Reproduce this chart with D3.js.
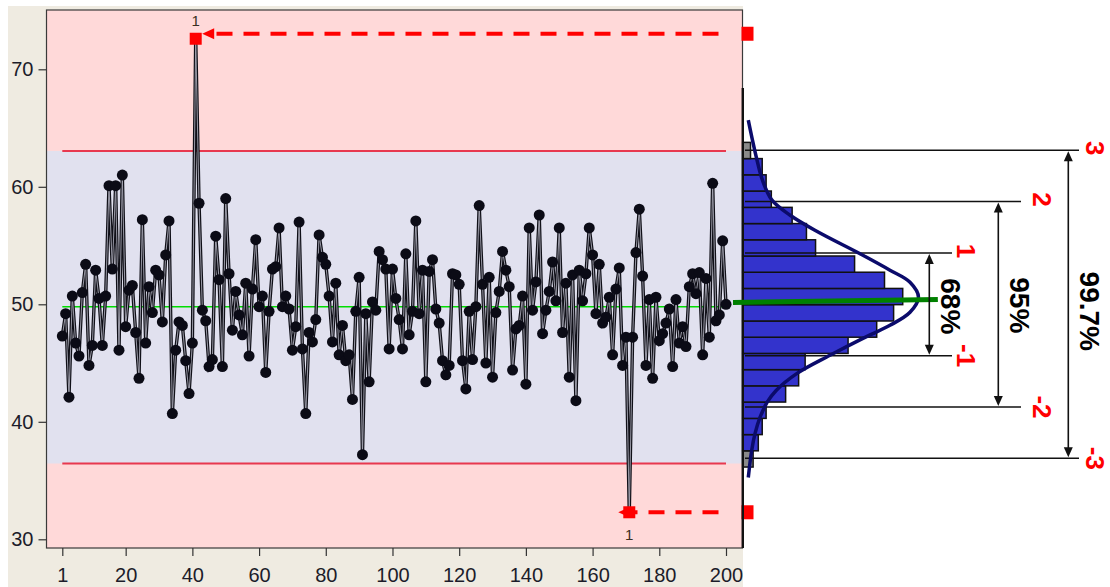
<!DOCTYPE html>
<html>
<head>
<meta charset="utf-8">
<script src="https://cdn.jsdelivr.net/npm/d3@7"></script>
<style>
  html, body { margin: 0; padding: 0; background: #ffffff; }
  svg { display: block; }
</style>
</head>
<body>
<svg id="chart" width="1110" height="587"></svg>
<script>
// ---- Individual measurements (sample number 1..200) ----
const sampleNumbers = d3.range(1, 201);
const measurements = [
  47.3, 49.2, 42.1, 50.7, 46.7, 45.6, 51.0, 53.4, 44.8, 46.5,
  52.9, 50.5, 46.5, 50.7, 60.1, 53.0, 60.1, 46.1, 61.0, 48.1,
  51.2, 51.6, 47.6, 43.7, 57.2, 46.7, 51.5, 49.3, 52.9, 52.5,
  48.5, 54.2, 57.1, 40.7, 46.1, 48.5, 48.2, 45.2, 42.4, 46.7,
  72.6, 58.6, 49.5, 48.6, 44.7, 45.3, 55.8, 52.1, 44.7, 59.0,
  52.6, 47.8, 51.1, 49.1, 47.4, 51.8, 45.6, 51.3, 55.5, 49.8,
  50.7, 44.2, 49.4, 53.0, 53.2, 56.5, 49.8, 50.7, 49.6, 46.1,
  48.1, 57.0, 46.2, 40.7, 47.6, 46.8, 48.7, 55.9, 54.0, 53.4,
  50.7, 46.8, 51.8, 45.7, 48.2, 45.2, 45.7, 41.9, 49.4, 52.3,
  37.2, 49.2, 43.4, 50.2, 49.5, 54.5, 53.8, 53.0, 46.2, 53.0,
  50.5, 48.7, 46.2, 54.3, 47.4, 49.4, 57.1, 49.2, 52.9, 43.4,
  52.8, 53.8, 49.6, 48.4, 45.2, 44.0, 44.8, 52.6, 52.5, 51.7,
  45.2, 42.8, 49.4, 45.3, 49.8, 58.4, 51.7, 45.0, 52.3, 43.8,
  49.3, 51.1, 54.5, 52.9, 51.5, 44.4, 47.9, 48.2, 50.7, 43.2,
  56.5, 49.5, 51.9, 57.6, 47.5, 49.5, 51.1, 53.6, 50.3, 56.5,
  47.6, 51.8, 43.8, 52.5, 41.8, 52.9, 50.3, 52.6, 56.5, 54.2,
  49.2, 53.4, 48.4, 48.9, 50.6, 45.7, 51.3, 53.1, 44.8, 47.2,
  32.3, 47.2, 54.4, 58.1, 52.4, 44.8, 50.4, 43.7, 50.6, 46.9,
  47.5, 48.4, 49.6, 44.7, 50.4, 46.7, 48.1, 46.4, 51.5, 52.6,
  50.9, 52.7, 45.7, 52.2, 47.2, 60.3, 48.6, 49.1, 55.4, 50.0
];
const outOfControl = [41, 171];
const outlierRuleLabel = "1";

// ---- Control limits ----
const centerLine = 49.8;
const upperLimit = 63.05;
const lowerLimit = 36.45;

// ---- Axis ticks ----
const xTickValues = [1, 20, 40, 60, 80, 100, 120, 140, 160, 180, 200];
const yTickValues = [30, 40, 50, 60, 70];

// ---- Side histogram (bins listed from bottom to top) ----
const binEdges = [36.15, 37.53, 38.91, 40.29, 41.68, 43.06, 44.44, 45.82, 47.20, 48.58,
                  49.97, 51.35, 52.73, 54.11, 55.49, 56.87, 58.25, 59.64, 61.02, 62.40, 63.78];
const binPercent = [0.8, 1.2, 1.5, 1.8, 3.3, 4.3, 4.8, 8.1, 10.3, 11.6,
                    12.3, 10.9, 8.6, 5.6, 4.9, 3.8, 2.2, 1.8, 1.5, 0.6];
const tailBins = [0, 19];

// ---- Normal distribution overlay ----
const histMean = 50.0;
const histSigma = 4.37;
const curveValues  = [65.67, 63.97, 62.27, 60.56, 58.86, 57.58, 56.30, 54.17, 52.90, 51.87, 50.60,
                      49.32, 48.21, 47.10, 45.66, 44.12, 42.67, 41.65, 40.37, 39.01, 37.56, 35.26];
const curveDensity = [0.43, 0.75, 1.10, 1.52, 2.25, 3.65, 5.55, 9.24, 11.32, 12.86, 13.51,
                      12.86, 11.32, 9.24, 6.71, 4.18, 2.57, 1.87, 1.33, 0.95, 0.69, 0.43];

// ---- Sigma bands ----
const sigmaLevels = [3, 2, 1, -1, -2, -3];
const sigmaLabels = ["3", "2", "1", "-1", "-2", "-3"];
const coverageSigma = [1, 2, 3];
const coverageLabels = ["68%", "95%", "99.7%"];

// ================= drawing =================
const svg = d3.select("#chart");
const W = 1110, H = 587;
const frame = { left: 46.5, right: 742.5, top: 10, bottom: 548 };

const x = d3.scaleLinear().domain([1, 200]).range([62.3, 726]);
const y = d3.scaleLinear().domain([30, 70]).range([539.3, 69.3]);
const xHist = d3.scaleLinear().domain([0, 10]).range([742.7, 872.8]);

svg.append("rect").attr("width", W).attr("height", H).attr("fill", "#ffffff");
// panel background behind the run chart
svg.append("rect").attr("x", 8).attr("y", 6).attr("width", 735).attr("height", H - 6)
  .attr("fill", "#efebe1");

// zones: out-of-control (pink) and in-control (lavender)
const plotW = frame.right - frame.left;
svg.append("rect").attr("x", frame.left).attr("y", frame.top)
  .attr("width", plotW).attr("height", frame.bottom - frame.top).attr("fill", "#ffd9d9");
svg.append("rect").attr("x", frame.left).attr("y", y(upperLimit))
  .attr("width", plotW).attr("height", y(lowerLimit) - y(upperLimit)).attr("fill", "#e1e1ef");

// limit lines and center line
[upperLimit, lowerLimit].forEach(v => {
  svg.append("line").attr("x1", x(1)).attr("x2", x(200)).attr("y1", y(v)).attr("y2", y(v))
    .attr("stroke", "#e8384f").attr("stroke-width", 2);
});
svg.append("line").attr("x1", x(1)).attr("x2", x(200)).attr("y1", y(centerLine)).attr("y2", y(centerLine))
  .attr("stroke", "#00dd00").attr("stroke-width", 1.5);

// frame
svg.append("rect").attr("x", frame.left).attr("y", frame.top)
  .attr("width", plotW).attr("height", frame.bottom - frame.top)
  .attr("fill", "none").attr("stroke", "#3a3a3a").attr("stroke-width", 1.2);

// axes
const axisFont = "'Liberation Sans', Arial, sans-serif";
const yAxis = svg.append("g").attr("transform", `translate(${frame.left},0)`)
  .call(d3.axisLeft(y).tickValues(yTickValues).tickSize(8).tickPadding(5).tickFormat(d3.format("d")));
const xAxis = svg.append("g").attr("transform", `translate(0,${frame.bottom})`)
  .call(d3.axisBottom(x).tickValues(xTickValues).tickSize(8).tickPadding(12).tickFormat(d3.format("d")));
[yAxis, xAxis].forEach(g => {
  g.select(".domain").remove();
  g.selectAll(".tick line").attr("stroke", "#333").attr("stroke-width", 1.2);
  g.selectAll(".tick text").attr("fill", "#1c1c2a").style("font-family", axisFont).style("font-size", "20px");
});

// data trace: dark stroke with a light core
const pts = sampleNumbers.map((n, i) => ({ n, v: measurements[i] }));
const trace = d3.line().x(d => x(d.n)).y(d => y(d.v));
svg.append("path").datum(pts).attr("d", trace).attr("fill", "none")
  .attr("stroke", "#101018").attr("stroke-width", 3.4).attr("stroke-linejoin", "miter");
svg.append("path").datum(pts).attr("d", trace).attr("fill", "none")
  .attr("stroke", "#a8a8b6").attr("stroke-width", 0.9);

svg.append("g").selectAll("circle")
  .data(pts.filter(d => !outOfControl.includes(d.n)))
  .join("circle")
  .attr("cx", d => x(d.n)).attr("cy", d => y(d.v)).attr("r", 5.5)
  .attr("fill", "#0b0b16");

// out-of-control points, rule labels and pointer arrows
const markerX = 747.5;
outOfControl.forEach(n => {
  const v = measurements[n - 1];
  const px = x(n), py = y(v);
  const above = v > upperLimit;
  svg.append("rect").attr("x", px - 6).attr("y", py - 6).attr("width", 12).attr("height", 12)
    .attr("fill", "#ff0000");
  svg.append("text").attr("x", px).attr("y", above ? py - 13 : py + 28)
    .attr("text-anchor", "middle").attr("fill", "#3a2e22")
    .style("font-family", axisFont).style("font-size", "15px").text(outlierRuleLabel);

  const ay = above ? py - 5 : py;
  const tip = above ? px + 6.5 : px - 11;
  const base = tip + 12;
  svg.append("path").attr("d", `M${markerX - 29},${ay}H${base}`)
    .attr("stroke", "#ff0000").attr("stroke-width", 4).attr("stroke-dasharray", "16,11").attr("fill", "none");
  svg.append("path").attr("d", `M${tip},${ay}L${base},${ay - 5.5}L${base},${ay + 5.5}Z`).attr("fill", "#ff0000");
  svg.append("rect").attr("x", markerX - 6).attr("y", ay - 7).attr("width", 12).attr("height", 14)
    .attr("fill", "#ff0000");
});

// histogram bars
const bins = binPercent.map((p, i) => ({ lo: binEdges[i], hi: binEdges[i + 1], p, tail: tailBins.includes(i) }));
svg.append("g").selectAll("rect").data(bins).join("rect")
  .attr("x", xHist(0)).attr("y", d => y(d.hi))
  .attr("width", d => xHist(d.p) - xHist(0)).attr("height", d => y(d.lo) - y(d.hi))
  .attr("fill", d => d.tail ? "#8a8a8a" : "#3333cc")
  .attr("stroke", "#111").attr("stroke-width", 1.5);

// dark baseline of the histogram
svg.append("line").attr("x1", 742.8).attr("x2", 742.8).attr("y1", 88).attr("y2", frame.bottom)
  .attr("stroke", "#111").attr("stroke-width", 2.4);

// sigma reference lines and labels
const lineEnd = { 1: 952, 2: 1021, 3: 1079 };
const labelX = { 1: 966, 2: 1041.5, 3: 1095 };
const labelFont = "'Liberation Sans', Arial, sans-serif";
sigmaLevels.forEach((k, i) => {
  const ly = y(histMean + k * histSigma);
  svg.append("line").attr("x1", 745).attr("x2", lineEnd[Math.abs(k)]).attr("y1", ly).attr("y2", ly)
    .attr("stroke", "#111").attr("stroke-width", 1.5);
  svg.append("text").attr("transform", `translate(${labelX[Math.abs(k)]},${ly + (k > 0 ? -2 : 0)}) rotate(90)`)
    .attr("text-anchor", "middle").attr("dominant-baseline", "central")
    .attr("fill", "#ff0000").style("font-family", labelFont).style("font-weight", "bold").style("font-size", "26px")
    .text(sigmaLabels[i]);
});

// normal curve
const curvePts = curveValues.map((v, i) => ({ v, d: curveDensity[i] }));
svg.append("path").datum(curvePts)
  .attr("d", d3.line().x(d => xHist(d.d)).y(d => y(d.v)).curve(d3.curveCatmullRom.alpha(0.5)))
  .attr("fill", "none").attr("stroke", "#0b0b6b").attr("stroke-width", 3.5);

// mean marker across the histogram
svg.append("line").attr("x1", 733).attr("x2", xHist(15.0))
  .attr("y1", y(histMean + 0.15)).attr("y2", y(histMean + 0.4))
  .attr("stroke", "#008000").attr("stroke-width", 5);

// coverage arrows
const arrowX = { 1: 929.3, 2: 998.3, 3: 1068.3 };
const textDy = { 1: 2, 2: 1, 3: 7 };
coverageSigma.forEach((k, i) => {
  const ax = arrowX[k];
  const yTop = y(histMean + k * histSigma), yBot = y(histMean - k * histSigma);
  svg.append("line").attr("x1", ax).attr("x2", ax).attr("y1", yTop + 8).attr("y2", yBot - 8)
    .attr("stroke", "#111").attr("stroke-width", 1.6);
  svg.append("path").attr("d", `M${ax},${yTop + 1}L${ax - 4.5},${yTop + 11}L${ax + 4.5},${yTop + 11}Z`).attr("fill", "#111");
  svg.append("path").attr("d", `M${ax},${yBot - 1}L${ax - 4.5},${yBot - 11}L${ax + 4.5},${yBot - 11}Z`).attr("fill", "#111");
  svg.append("text").attr("transform", `translate(${ax + 21},${y(histMean) + textDy[k]}) rotate(90)`)
    .attr("text-anchor", "middle").attr("dominant-baseline", "central")
    .attr("fill", "#000").style("font-family", labelFont).style("font-weight", "bold").style("font-size", "28px")
    .text(coverageLabels[i]);
});
</script>
</body>
</html>
